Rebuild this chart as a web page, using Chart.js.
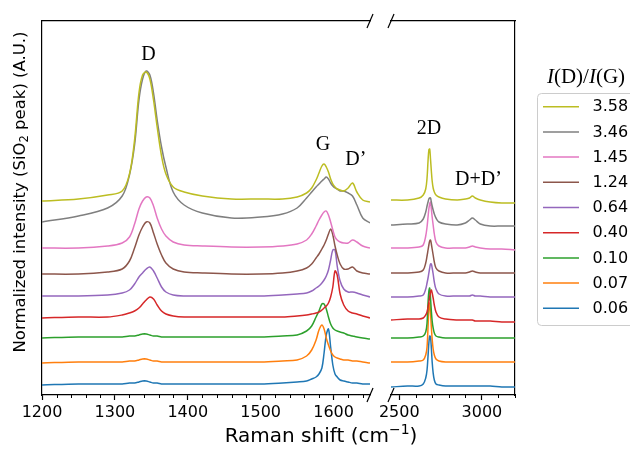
<!DOCTYPE html>
<html><head><meta charset="utf-8">
<script src="https://cdn.jsdelivr.net/npm/chart.js@4.4.1/dist/chart.umd.min.js"></script>
<style>
html,body{margin:0;padding:0;background:#fff;}
#wrap{position:relative;width:630px;height:450px;overflow:hidden;}
canvas{position:absolute;left:0;top:0;}
</style></head><body>
<div id="wrap"><canvas id="cL" width="630" height="450"></canvas><canvas id="cR" width="630" height="450"></canvas></div>
<script>
// ---- data ----
const ratioLabels = ['3.58','3.46','1.45','1.24','0.64','0.40','0.10','0.07','0.06'];
const leftTicks = [1200,1300,1400,1500,1600];
const rightTicks = [2500,3000];
const leftShift = [1200,1250,1290,1310,1320,1327,1333,1338,1343,1348,1353,1358,1364,1370,1380,1395,1420,1460,1500,1530,1550,1563,1570,1576,1580,1584,1587,1590,1593,1596,1599,1602,1605,1609,1614,1620,1626,1632,1640,1650];
const rightShift = [2450,2550,2620,2645,2660,2668,2674,2679,2684,2689,2694,2699,2705,2712,2722,2740,2780,2850,2900,2925,2942,2960,2990,3050,3120,3200];

const left358 = [194,196,200,204,221,255,302,320,323,316,295,268,239,221,208,203,199,196,196,196,198,202,207,215,222,229,231,228,223,216,211,208,206,205,204,207,212,203,195,193];
const left346 = [173,179,187,199,220,250,295,316,324,320,302,275,248,228,203,190,182,177,178,181,187,197,203,208,211,214,216,218,216,212,209,207,206,204,204,202,199,190,177,172];
const left145 = [147,147,149,152,158,171,186,194,198,197,189,177,166,159,153,150,149,148,148,149,151,155,161,169,175,180,183,184,180,173,165,158,155,153,152,152,155,153,149,147];
const left124 = [121,121,123,126,134,147,160,168,173,172,162,151,140,132,126,123,122,121,121,122,124,127,131,137,141,146,150,155,161,166,160,149,140,131,126,126,128,124,122,121];
const left064 = [99,99,100,102,105,111,118,122,126,128,124,117,108,103,100,99,99,99,99,100,101,102,104,107,109,112,115,119,125,135,145,145,129,114,106,103,103,102,100,98];
const left040 = [77,78,78,80,82,84,87,91,95,98,96,90,84,81,79,78,78,78,78,78,79,80,81,82,83,85,87,89,92,98,108,124,120,101,90,84,82,81,79,77];
const left010 = [57,58,58,58,59,59,60,61,61,60,59,59,58,58,58,58,58,58,58,59,60,64,69,78,84,91,91,86,78,71,67,65,64,63,62,60,59,58,57,56];
const left007 = [32,33,33,33,34,34,35,36,36,35,34,34,33,33,33,33,33,33,33,34,35,39,45,55,65,70,66,57,50,44,40,38,37,36,35,35,34,34,33,32];
const left006 = [10,11,11,11,12,12,13,14,14,13,12,12,11,11,11,11,11,11,11,12,13,14,16,18,21,27,42,60,66,48,30,21,18,15,14,13,12,12,11,11];

const right358 = [195,195,197,200,206,217,234,245,246,236,224,214,207,203,200,198,196,195,196,197,199,197,195,193,192,192];
const right346 = [170,171,172,176,183,189,193,196,197,197,193,189,185,181,177,173,171,170,172,175,177,175,171,169,169,169];
const right145 = [147,147,148,150,159,168,178,186,191,193,186,178,170,161,153,149,147,147,147,148,149,148,147,146,146,145];
const right124 = [122,122,123,125,132,139,145,150,154,155,151,146,140,133,127,124,122,122,122,123,124,123,122,122,122,122];
const right064 = [98,98,99,100,106,112,117,122,127,131,131,127,121,113,106,101,99,99,99,99,100,99,99,98,98,98];
const right040 = [75,76,76,77,80,83,88,93,98,103,105,102,97,90,83,78,76,75,75,75,75,74,74,74,73,73];
const right010 = [57,57,58,59,63,72,92,104,107,97,84,74,67,62,59,58,57,57,57,57,57,57,57,57,57,57];
const right007 = [33,33,34,35,40,48,68,86,92,82,68,56,46,40,36,34,33,33,33,33,33,33,33,33,33,33];
const right006 = [8,9,9,11,17,25,39,52,59,58,47,33,22,15,11,10,9,9,9,9,9,9,9,9,8,8];

const leftSeries = [left358,left346,left145,left124,left064,left040,left010,left007,left006];
const rightSeries = [right358,right346,right145,right124,right064,right040,right010,right007,right006];

// peak labels: [text, shift, intensity]
const leftPeakLabels = [['D',1346,340],['G',1585.5,250],['D\u2019',1630.5,235]];
const rightPeakLabels = [['2D',2680,266],['D+D\u2019',2979,215]];

// ---- styles ----
const seriesColors = ['#bcbd22','#7f7f7f','#e377c2','#8c564b','#9467bd','#d62728','#2ca02c','#ff7f0e','#1f77b4'];
const INK = '#000';
const SANS = '"DejaVu Sans"';
const SERIF = '"Liberation Serif"';

function makeDatasets(xs, ys) {
  return ratioLabels.map((lab, i) => ({
    label: lab,
    data: xs.map((x, j) => ({x: x, y: ys[i][j]})),
    borderColor: seriesColors[i],
    backgroundColor: seriesColors[i],
    borderWidth: 1.5,
    pointRadius: 0,
    tension: 0.35,
    fill: false,
    xAxisID: 'x',
    yAxisID: 'y'
  }));
}

function axisScales(min, max, ticks, yPos, yWidth) {
  return {
    x: {
      type: 'linear', position: 'bottom', min: min, max: max,
      afterBuildTicks: s => { s.ticks = ticks.map(v => ({value: v})); },
      ticks: {color: INK, font: {family: 'DejaVu Sans', size: 16}, padding: 3, maxRotation: 0, autoSkip: false, callback: v => String(v)},
      grid: {display: true, drawOnChartArea: false, drawTicks: true, tickLength: 5, tickColor: INK, tickWidth: 1.2},
      border: {display: true, color: INK, width: 1.2},
      afterFit: s => { s.height = 55; }
    },
    xTop: {
      type: 'linear', position: 'top', min: min, max: max,
      ticks: {display: false}, grid: {display: false},
      border: {display: true, color: INK, width: 1.2},
      afterFit: s => { s.height = 0; }
    },
    y: {
      type: 'linear', position: yPos, min: 0, max: 374,
      ticks: {display: false}, grid: {display: false},
      border: {display: true, color: INK, width: 1.2},
      afterFit: s => { s.width = yWidth; }
    }
  };
}

function drawMinor(chart, minors) {
  const ctx = chart.ctx, xs = chart.scales.x, b = chart.chartArea.bottom;
  ctx.save(); ctx.strokeStyle = INK; ctx.lineWidth = 1;
  minors.forEach(v => {
    const px = Math.round(xs.getPixelForValue(v)) + 0.5;
    ctx.beginPath(); ctx.moveTo(px, b); ctx.lineTo(px, b + 3); ctx.stroke();
  });
  ctx.restore();
}
function drawBreak(chart, xEdge) {
  const ctx = chart.ctx, a = chart.chartArea;
  ctx.save(); ctx.strokeStyle = INK; ctx.lineWidth = 1.2;
  [a.top, a.bottom].forEach(y => {
    ctx.beginPath(); ctx.moveTo(xEdge - 3, y + 7); ctx.lineTo(xEdge + 3, y - 7); ctx.stroke();
  });
  ctx.restore();
}
function drawPeakLabels(chart, labels) {
  const ctx = chart.ctx;
  ctx.save(); ctx.fillStyle = INK; ctx.font = '20px ' + SERIF;
  ctx.textAlign = 'center'; ctx.textBaseline = 'middle';
  labels.forEach(([t, x, y]) => {
    ctx.fillText(t, chart.scales.x.getPixelForValue(x), chart.scales.y.getPixelForValue(y));
  });
  ctx.restore();
}
function drawParts(ctx, parts, cx, cy) {
  let total = 0;
  parts.forEach(p => { ctx.font = p.f; p.w = ctx.measureText(p.t).width; total += p.w; });
  let x = cx - total / 2;
  ctx.textAlign = 'left'; ctx.textBaseline = 'middle';
  parts.forEach(p => { ctx.font = p.f; ctx.fillText(p.t, x, cy + (p.dy || 0)); x += p.w; });
}

const leftMinor = [];
for (let v = 1220; v < 1650; v += 20) { if (v % 100 !== 0) leftMinor.push(v); }
const rightMinor = [2600,2700,2800,2900,3100,3200];

const leftPlugin = {
  id: 'leftDeco',
  afterDraw(chart) {
    const ctx = chart.ctx;
    drawMinor(chart, leftMinor);
    drawBreak(chart, chart.chartArea.right);
    drawPeakLabels(chart, leftPeakLabels);
    ctx.save(); ctx.fillStyle = INK;
    ctx.translate(21, 192); ctx.rotate(-Math.PI / 2);
    drawParts(ctx, [
      {t: 'Normalized intensity (SiO', f: '16.5px ' + SANS},
      {t: '2', f: '11.5px ' + SANS, dy: 4},
      {t: ' peak) (A.U.)', f: '16.5px ' + SANS}
    ], 0, 0);
    ctx.restore();
    ctx.save(); ctx.fillStyle = INK;
    drawParts(ctx, [
      {t: 'Raman shift (cm', f: '20px ' + SANS},
      {t: '\u22121', f: '14px ' + SANS, dy: -7},
      {t: ')', f: '20px ' + SANS}
    ], 321, 437);
    ctx.restore();
  }
};

const rightPlugin = {
  id: 'rightDeco',
  afterDraw(chart) {
    const ctx = chart.ctx;
    drawMinor(chart, rightMinor);
    drawBreak(chart, chart.chartArea.left);
    drawPeakLabels(chart, rightPeakLabels);
    ctx.save();
    ctx.fillStyle = INK;
    drawParts(ctx, [
      {t: 'I', f: 'italic 21px ' + SERIF},
      {t: '(D)/', f: '21px ' + SERIF},
      {t: 'I', f: 'italic 21px ' + SERIF},
      {t: '(G)', f: '21px ' + SERIF}
    ], 586, 77);
    ctx.beginPath();
    ctx.roundRect(537.5, 93.5, 120, 232, 4);
    ctx.fillStyle = 'rgba(255,255,255,0.8)'; ctx.fill();
    ctx.strokeStyle = '#cccccc'; ctx.lineWidth = 1; ctx.stroke();
    ratioLabels.forEach((lab, i) => {
      const y = 106.7 + i * 25.2;
      ctx.strokeStyle = seriesColors[i]; ctx.lineWidth = 1.5;
      ctx.beginPath(); ctx.moveTo(543, y); ctx.lineTo(579, y); ctx.stroke();
      ctx.fillStyle = INK; ctx.font = '16px ' + SANS; ctx.textAlign = 'left'; ctx.textBaseline = 'middle';
      ctx.fillText(lab, 592.5, y + 0.5);
    });
    ctx.restore();
  }
};

const baseOpts = {
  responsive: false, animation: false, devicePixelRatio: 1,
  plugins: {legend: {display: false}, tooltip: {enabled: false}},
  events: []
};

new Chart(document.getElementById('cL'), {
  type: 'line',
  data: {datasets: makeDatasets(leftShift, leftSeries)},
  options: Object.assign({}, baseOpts, {
    layout: {padding: {left: 0, right: 260, top: 21, bottom: 0}},
    scales: axisScales(1200, 1650, leftTicks, 'left', 42)
  }),
  plugins: [leftPlugin]
});
new Chart(document.getElementById('cR'), {
  type: 'line',
  data: {datasets: makeDatasets(rightShift, rightSeries)},
  options: Object.assign({}, baseOpts, {
    layout: {padding: {left: 391, right: 115, top: 21, bottom: 0}},
    scales: axisScales(2450, 3200, rightTicks, 'right', 0)
  }),
  plugins: [rightPlugin]
});
</script>
</body></html>
